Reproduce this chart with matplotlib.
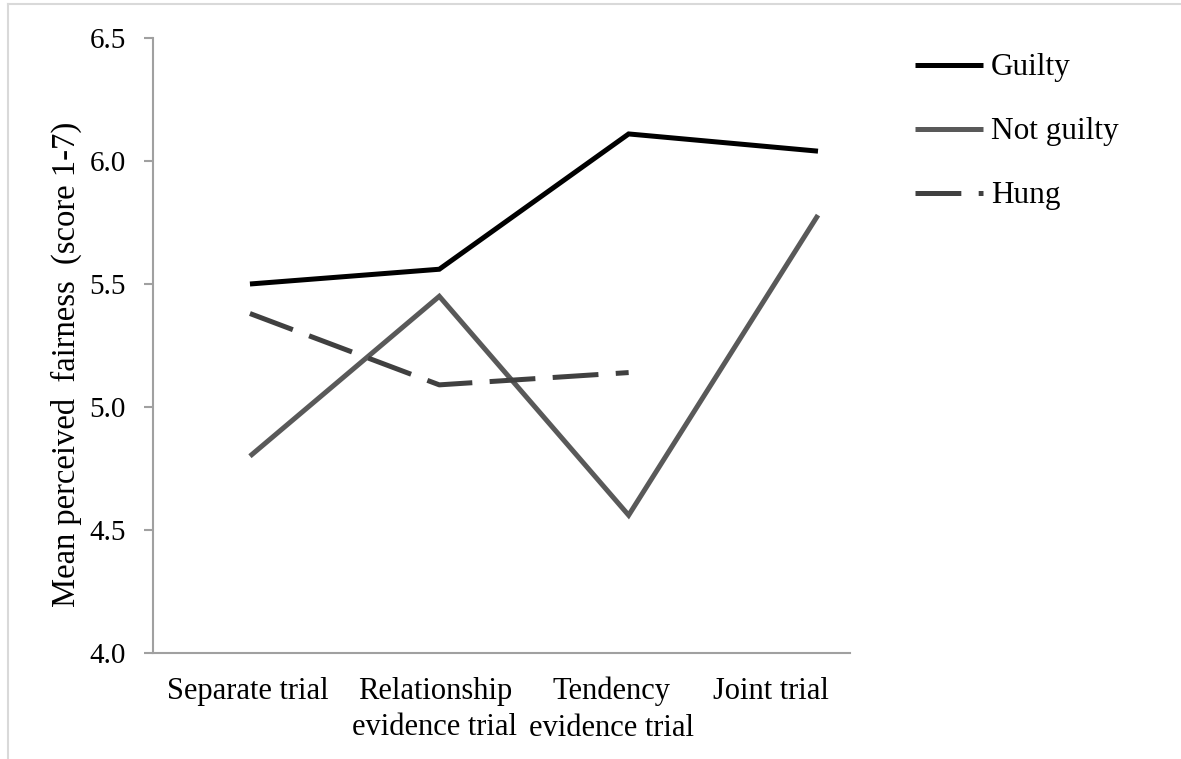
import matplotlib
matplotlib.use("Agg")
import matplotlib.pyplot as plt
from matplotlib.lines import Line2D

categories = ["Separate trial", "Relationship\nevidence trial", "Tendency\nevidence trial", "Joint trial"]
guilty = [5.50, 5.56, 6.11, 6.04]
not_guilty = [4.80, 5.45, 4.56, 5.78]
hung = [5.38, 5.09, 5.14]
y_ticks = [4.0, 4.5, 5.0, 5.5, 6.0, 6.5]
y_label = "Mean perceived  fairness  (score 1-7)"

plt.rcParams['font.family'] = ['Liberation Serif', 'DejaVu Serif']
plt.rcParams['lines.scale_dashes'] = False

W, H = 1181, 759
fig = plt.figure(figsize=(W / 100, H / 100), dpi=100)
ax = fig.add_axes([153 / W, 1 - 653 / H, 697 / W, 615 / H])

x = list(range(len(categories)))
ax.plot(x, guilty, color="#000000", lw=3.6, label="Guilty", solid_capstyle="butt", solid_joinstyle="miter")
ax.plot(x, not_guilty, color="#595959", lw=3.6, label="Not guilty", solid_capstyle="butt", solid_joinstyle="miter")
ax.plot(x[:len(hung)], hung, color="#404040", lw=3.6, label="Hung", dashes=(33, 12.5), dash_capstyle="butt")

ax.set_xlim(-0.512, 3.169)
ax.set_ylim(4.0, 6.5)
ax.set_yticks(y_ticks)
ax.set_yticklabels([f"{v:.1f}" for v in y_ticks])
ax.set_xticks([-0.013, 0.977, 1.91, 2.75])
ax.set_xticklabels(categories, linespacing=1.35)

for s in ["top", "right"]:
    ax.spines[s].set_visible(False)
for s in ["left", "bottom"]:
    ax.spines[s].set_color("#A0A0A0")
    ax.spines[s].set_linewidth(1.5)

ax.tick_params(axis="y", length=6.5, width=1.5, color="#A0A0A0", labelsize=21, pad=13)
ax.tick_params(axis="x", length=0, labelsize=22, pad=17)
ax.set_ylabel(y_label, fontsize=23.5)
ax.yaxis.set_label_coords(-0.102, 0.47)

ax.legend(loc="upper left", bbox_to_anchor=(915 / W, 1 - 53.5 / H), bbox_transform=fig.transFigure,
          frameon=False, fontsize=22.5, handlelength=2.18, handletextpad=0.26, labelspacing=1.12,
          borderpad=0, borderaxespad=0)

border = "#D9D9D9"
fig.add_artist(Line2D([8 / W, 8 / W], [0, 1 - 4 / H], color=border, lw=1.5, transform=fig.transFigure))
fig.add_artist(Line2D([8 / W, 1], [1 - 4 / H, 1 - 4 / H], color=border, lw=1.5, transform=fig.transFigure))

fig.savefig("out.png", dpi=100)
